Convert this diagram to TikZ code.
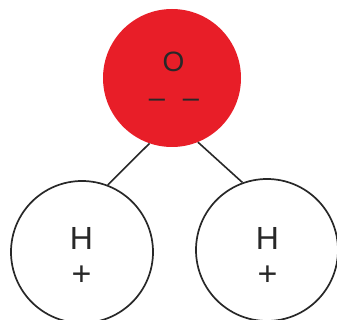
\documentclass[tikz,border=0pt]{standalone}
\usepackage{fontspec}
\setmainfont{Liberation Sans}
\definecolor{oxred}{RGB}{232,30,40}
\definecolor{ink}{RGB}{40,40,40}
\begin{document}
\begin{tikzpicture}[x=1pt,y=-1pt,
  atom/.style={circle,inner sep=0pt,minimum size=142pt,draw=ink,line width=1.7pt,fill=white},
  oatom/.style={circle,inner sep=0pt,minimum size=138pt,fill=oxred},
  lbl/.style={font=\fontsize{32}{32}\selectfont,text=ink,inner sep=0pt,anchor=base},
  olbl/.style={font=\fontsize{28}{28}\selectfont,text=ink,inner sep=0pt,anchor=base},
  chg/.style={font=\fontsize{34}{34}\selectfont,text=ink,inner sep=0pt,anchor=base},
  dsh/.style={font=\fontsize{29}{29}\selectfont,text=ink,inner sep=0pt,anchor=base},
  bond/.style={draw=ink,line width=1.6pt}]
\useasboundingbox[fill=white] (0,0) rectangle (337,320);
\node[oatom] (O) at (172,78) {};
\node[atom] (H1) at (82,252) {};
\node[atom] (H2) at (267,250) {};
\node[olbl] (Olbl) at (173.5,72) {O};
\node[dsh] (Ochg) at (174,108) {–\hspace{18pt}–};
\node[lbl] (H1lbl) at (81.5,250) {H};
\node[chg] (H1chg) at (81.5,285) {+};
\node[lbl] (H2lbl) at (267.5,250) {H};
\node[chg] (H2chg) at (267.5,285) {+};
\draw[bond] (O.251) -- (H1.69);
\draw[bond] (O.292) -- (H2.110);
\end{tikzpicture}
\end{document}
